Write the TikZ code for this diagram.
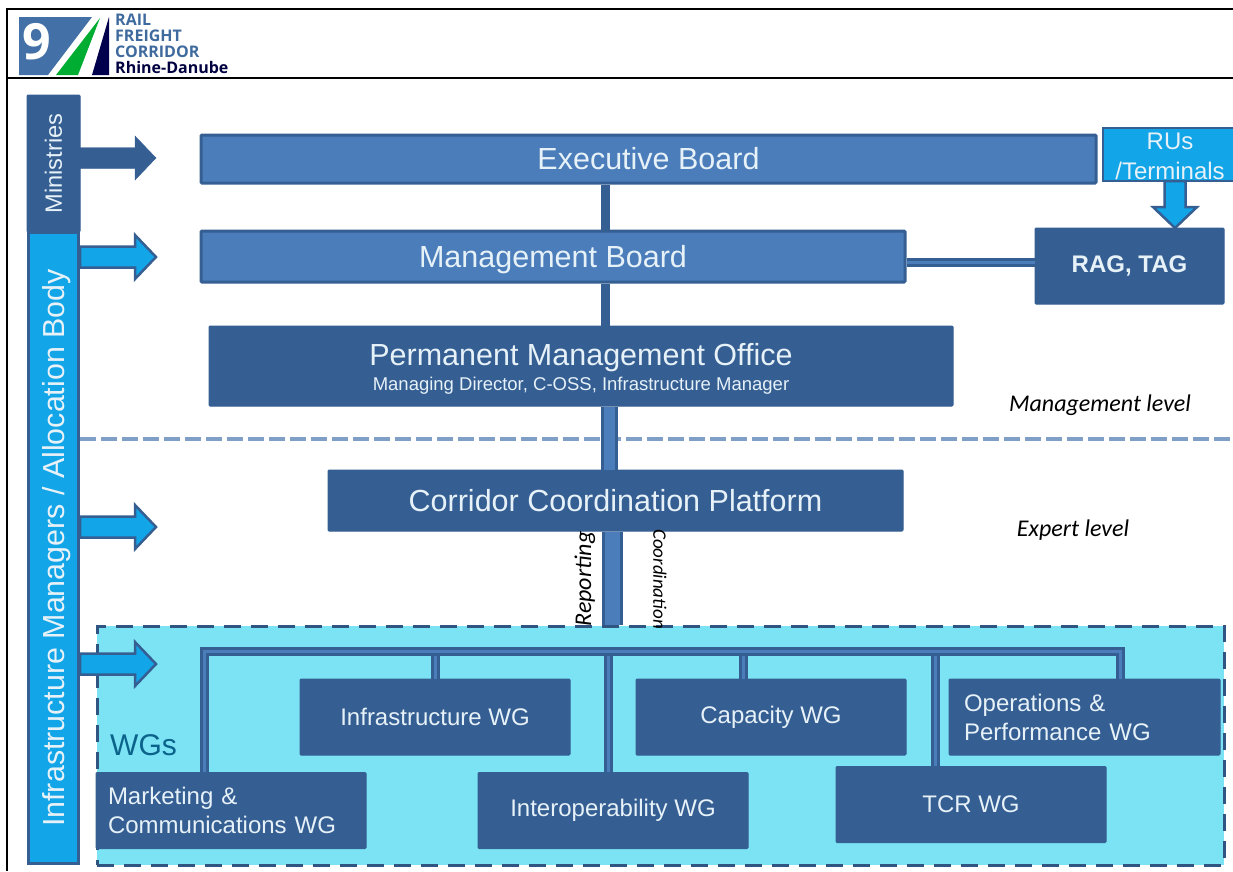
\documentclass[tikz,border=0pt]{standalone}
\usepackage{fontspec}
\setmainfont{Liberation Sans}
\newfontfamily\notefont{Carlito}
\newfontfamily\logofont{Open Sans}
\usetikzlibrary{positioning}
\definecolor{darkblue}{HTML}{355E92}
\definecolor{midblue}{HTML}{4A7DBA}
\definecolor{lightblue}{HTML}{12A5E8}
\definecolor{paleblue}{HTML}{7BE3F3}
\definecolor{textblue}{HTML}{E6F1F8}
\definecolor{levelline}{HTML}{7F9FC6}
\tikzset{
    box/.style={draw=darkblue, fill=darkblue, line width=1pt, text=textblue, rounded corners=1pt, align=center, inner sep=0pt},
    board/.style={box, draw=darkblue, line width=3pt, fill=midblue, font=\fontsize{30.5}{34}\selectfont},
    wg/.style={box, minimum width=270, minimum height=76, font=\fontsize{24}{29}\selectfont},
    trunk/.style={draw=darkblue, line width=9pt},
    feed/.style={draw=darkblue, line width=3pt, double=midblue, double distance=#1},
    bus/.style={draw=darkblue, line width=3pt, double=midblue, double distance=3pt},
    note/.style={font=\notefont\itshape\fontsize{24}{28}\selectfont, text=black, inner sep=0pt},
    pics/blockarrow/.style={code={
        \draw[pic actions, line join=miter] (0,-10.5) -- (#1,-10.5) -- (#1,-22) -- (#1+21,0) -- (#1,22) -- (#1,10.5) -- (0,10.5) -- cycle;
    }}
}
\begin{document}
\begin{tikzpicture}[x=1pt, y=1pt]
\useasboundingbox (0,0) rectangle (1233,-871);

% Page frame
\coordinate (frametl) at (7,-9);
\coordinate (frametr) at (1233,-9);
\coordinate (framebl) at (7,-871);
\coordinate (rulel) at (7,-78);
\coordinate (ruler) at (1233,-78);
\draw [black, line width=2.5pt] (frametr) -- (frametl) -- (framebl);
\draw [black, line width=2.5pt] (rulel) -- (ruler);

% Logo
\fill [midblue!90!black] (19,-17) -- (92,-17) -- (48,-75) -- (19,-75) -- cycle;
\fill [green!60!black!80!cyan] (100,-18) -- (78,-75) -- (56,-75) -- cycle;
\fill [black!70!blue] (109,-17) -- (109,-75) -- (92,-75) -- cycle;
\node (logonine) [
    xshift=37,
    yshift=-42,
    text=white,
    inner sep=0pt,
    font=\logofont\bfseries\fontsize{50}{50}\selectfont
] {9};
\node (logotext) [
    anchor=north west,
    xshift=115,
    yshift=-14,
    inner sep=0pt,
    align=left,
    text=midblue!85!black,
    font=\logofont\bfseries\fontsize{16}{16}\selectfont
] {RAIL\\FREIGHT\\CORRIDOR\\\textcolor{black!75!blue}{Rhine-Danube}};

% Level line
\coordinate (levell) at (80,-439);
\coordinate (levelr) at (1233,-439);
\draw [levelline, line width=4pt, dash pattern=on 16pt off 5pt] (levell) -- (levelr);

% Working groups area
\node (wgarea) [
    draw=darkblue!90!black,
    fill=paleblue,
    line width=3pt,
    dash pattern=on 17pt off 10pt,
    minimum width=1127,
    minimum height=239,
    inner sep=0pt,
    xshift=660.5,
    yshift=-745.5
] {};
\node (wglabel) [
    anchor=west,
    inner sep=0pt,
    xshift=110,
    yshift=-745,
    text=lightblue!60!black,
    font=\fontsize{30}{34}\selectfont
] {WGs};

% Side bars
\node (ministries) [box,
    xshift=53.5,
    yshift=-163.5,
    rotate=90,
    minimum width=137,
    minimum height=53,
    font=\fontsize{23.6}{26}\selectfont
] {Ministries};
\node (imab) [box,
    draw=darkblue,
    line width=3pt,
    fill=lightblue,
    rounded corners=0pt,
    xshift=53.5,
    yshift=-548,
    rotate=90,
    text depth=0pt,
    minimum width=631,
    minimum height=50,
    font=\fontsize{30.4}{34}\selectfont
] {Infrastructure Managers / Allocation Body};

% Boards
\node (exec) [board,
    minimum width=895,
    minimum height=48,
    xshift=648.5,
    yshift=-159
] {Executive Board};
\node (mgmt) [board,
    text depth=0pt,
    minimum width=704,
    minimum height=51,
    xshift=553,
    yshift=-256.5
] {Management Board};
\node (pmo) [box,
    minimum width=744,
    minimum height=80,
    xshift=581,
    yshift=-366,
    font=\fontsize{30.5}{32}\selectfont
] {\rule{0pt}{28pt}Permanent Management Office\\[-7pt]{\fontsize{18.5}{20}\selectfont Managing Director, C-OSS, Infrastructure Manager}};
\node (ccp) [box,
    minimum width=575,
    minimum height=61,
    xshift=615.5,
    yshift=-500.5,
    font=\fontsize{30.5}{34}\selectfont
] {Corridor Coordination Platform};
\node (rag) [box,
    minimum width=189,
    minimum height=76,
    xshift=1129.5,
    yshift=-266,
    font=\bfseries\fontsize{24}{28}\selectfont
] {RAG, TAG};
\node (rus) [box,
    line width=2pt,
    fill=lightblue,
    rounded corners=0pt,
    minimum width=134,
    minimum height=53,
    xshift=1170,
    yshift=-154.5,
    font=\fontsize{24}{30}\selectfont
] {\rule{0pt}{21pt}RUs\\/Terminals};

% Working groups
\node (marketing) [wg, align=left, text width=246, inner xsep=12pt,
    xshift=231,
    yshift=-810.5
] {Marketing \&\\Communications WG};
\node (infra) [wg,
    xshift=435,
    yshift=-717
] {Infrastructure WG};
\node (interop) [wg,
    xshift=613,
    yshift=-810.5
] {Interoperability WG};
\node (capacity) [wg,
    xshift=771,
    yshift=-717
] {Capacity WG};
\node (tcr) [wg,
    xshift=971,
    yshift=-804.5
] {TCR WG};
\node (ops) [wg, align=left, text width=241, inner xsep=15pt,
    xshift=1084.5,
    yshift=-717
] {Operations \&\\Performance WG};

% Connectors
\coordinate (stem) at (605.5,-300);
\coordinate (feedtop) at (609.5,-450);
\coordinate (feedlow) at (612,-580);
\coordinate (raglink) at (970,-262.5);
\coordinate (busleft) at (204,-651.5);
\coordinate (busright) at (1120,-651.5);
\coordinate (buscap) at (743,-651.5);
\coordinate (bustcr) at (935,-651.5);
\coordinate (busint) at (608,-651.5);

\draw [trunk] (exec.south -| stem) -- (mgmt.north -| stem);
\draw [trunk] (mgmt.south -| stem) -- (pmo.north -| stem);
\draw [feed=11pt] (pmo.south -| feedtop) -- (ccp.north -| feedtop);
\draw [feed=15pt] (ccp.south -| feedlow) -- (wgarea.north -| feedlow);
\draw [bus] (mgmt.east |- raglink) -- (rag.west |- raglink);

\draw [bus] (infra.north) -- (infra.north |- busleft);
\draw [bus] (capacity.north -| buscap) -- (buscap);
\draw [bus] (tcr.north -| bustcr) -- (bustcr);
\draw [bus] (interop.north -| busint) -- (busint);
\draw [bus] (marketing.north -| busleft) -- (busleft) -- (busright) -- (ops.north -| busright);

% Block arrows
\pic [draw=darkblue, fill=darkblue] at (80,-158) {blockarrow=55};
\pic [draw=darkblue, line width=2.5pt, fill=lightblue] at (80,-257) {blockarrow=55};
\pic [draw=darkblue, line width=2.5pt, fill=lightblue] at (80,-527) {blockarrow=55};
\pic [draw=darkblue, line width=2.5pt, fill=lightblue] at (80,-664) {blockarrow=55};
\pic [draw=darkblue, line width=2.5pt, fill=lightblue, rotate=-90] at (1175,-181) {blockarrow=26};

% Notes
\node (mgmtnote) [note,
    xshift=1100,
    yshift=-405
] {Management level};
\node (expertnote) [note,
    xshift=1073,
    yshift=-530
] {Expert level};
\node (reporting) [note,
    xshift=585,
    yshift=-579,
    rotate=90,
    font=\notefont\itshape\fontsize{24}{28}\selectfont
] {Reporting};
\node (coordination) [note,
    xshift=660,
    yshift=-579,
    rotate=-90,
    font=\notefont\itshape\fontsize{19}{22}\selectfont
] {Coordination};

\end{tikzpicture}
\end{document}
